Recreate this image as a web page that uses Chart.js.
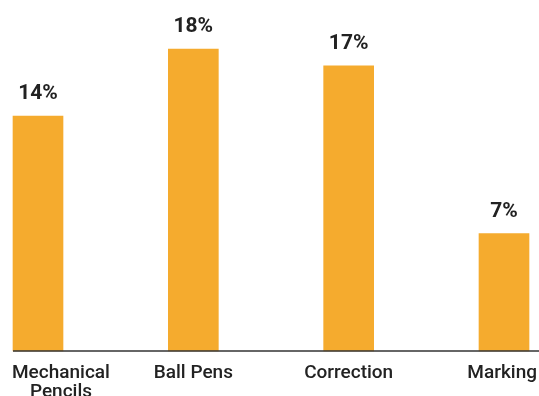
<!DOCTYPE html>
<html>
<head>
<meta charset="utf-8">
<script src="https://cdn.jsdelivr.net/npm/chart.js@4"></script>
<style>
  html, body { margin: 0; padding: 0; background: #fff; }
  #wrap { width: 539px; height: 396px; position: relative; }
</style>
</head>
<body>
<div id="wrap"><canvas id="share-canvas"></canvas></div>
<script>
var categories = [['Mechanical', 'Pencils'], ['Ball Pens'], ['Correction'], ['Marking']];
var shareValues = [14, 18, 17, 7];
var valueLabels = ['14%', '18%', '17%', '7%'];

var barColor = '#F5AB2E';
var textColor = '#222222';

// value labels above bars, baseline and category labels under the axis
var labelsPlugin = {
    id: 'labelsPlugin',
    afterDatasetsDraw: function(chart) {
        var ctx = chart.ctx;
        var area = chart.chartArea;
        var meta = chart.getDatasetMeta(0);
        var xScale = chart.scales.x;

        ctx.save();
        // baseline
        ctx.strokeStyle = '#333333';
        ctx.lineWidth = 1.5;
        ctx.beginPath();
        ctx.moveTo(area.left - 25, area.bottom);
        ctx.lineTo(chart.width, area.bottom);
        ctx.stroke();

        // values
        ctx.fillStyle = textColor;
        ctx.textAlign = 'center';
        ctx.textBaseline = 'alphabetic';
        ctx.font = 'bold 21px Roboto';
        meta.data.forEach(function(bar, i) {
            ctx.fillText(valueLabels[i], bar.x, bar.y - 17);
        });

        // categories
        ctx.font = '500 19px Roboto';
        categories.forEach(function(lines, i) {
            var x = xScale.getPixelForValue(i);
            var widest = 0;
            lines.forEach(function(l) { widest = Math.max(widest, ctx.measureText(l).width); });
            var minX = 12 + widest / 2;
            var maxX = chart.width - 2 - widest / 2;
            x = Math.min(Math.max(x, minX), maxX);
            lines.forEach(function(l, j) {
                ctx.fillText(l, x, area.bottom + 27 + j * 19);
            });
        });
        ctx.restore();
    }
};

var shareCanvas = document.getElementById('share-canvas').getContext('2d');

var shareChart = new Chart(shareCanvas, {
    type: 'bar',
    data: {
        labels: categories,
        datasets: [{
            data: shareValues,
            backgroundColor: barColor,
            borderWidth: 0,
            barThickness: 50,
            clip: false
        }]
    },
    options: {
        responsive: true,
        maintainAspectRatio: false,
        animation: false,
        layout: {
            padding: { left: 38, right: 35, top: 15.4, bottom: 45 }
        },
        scales: {
            x: {
                display: false,
                offset: false
            },
            y: {
                display: false,
                min: 0,
                max: 20
            }
        },
        plugins: {
            legend: { display: false },
            tooltip: { enabled: false }
        }
    },
    plugins: [labelsPlugin]
});
</script>
</body>
</html>
